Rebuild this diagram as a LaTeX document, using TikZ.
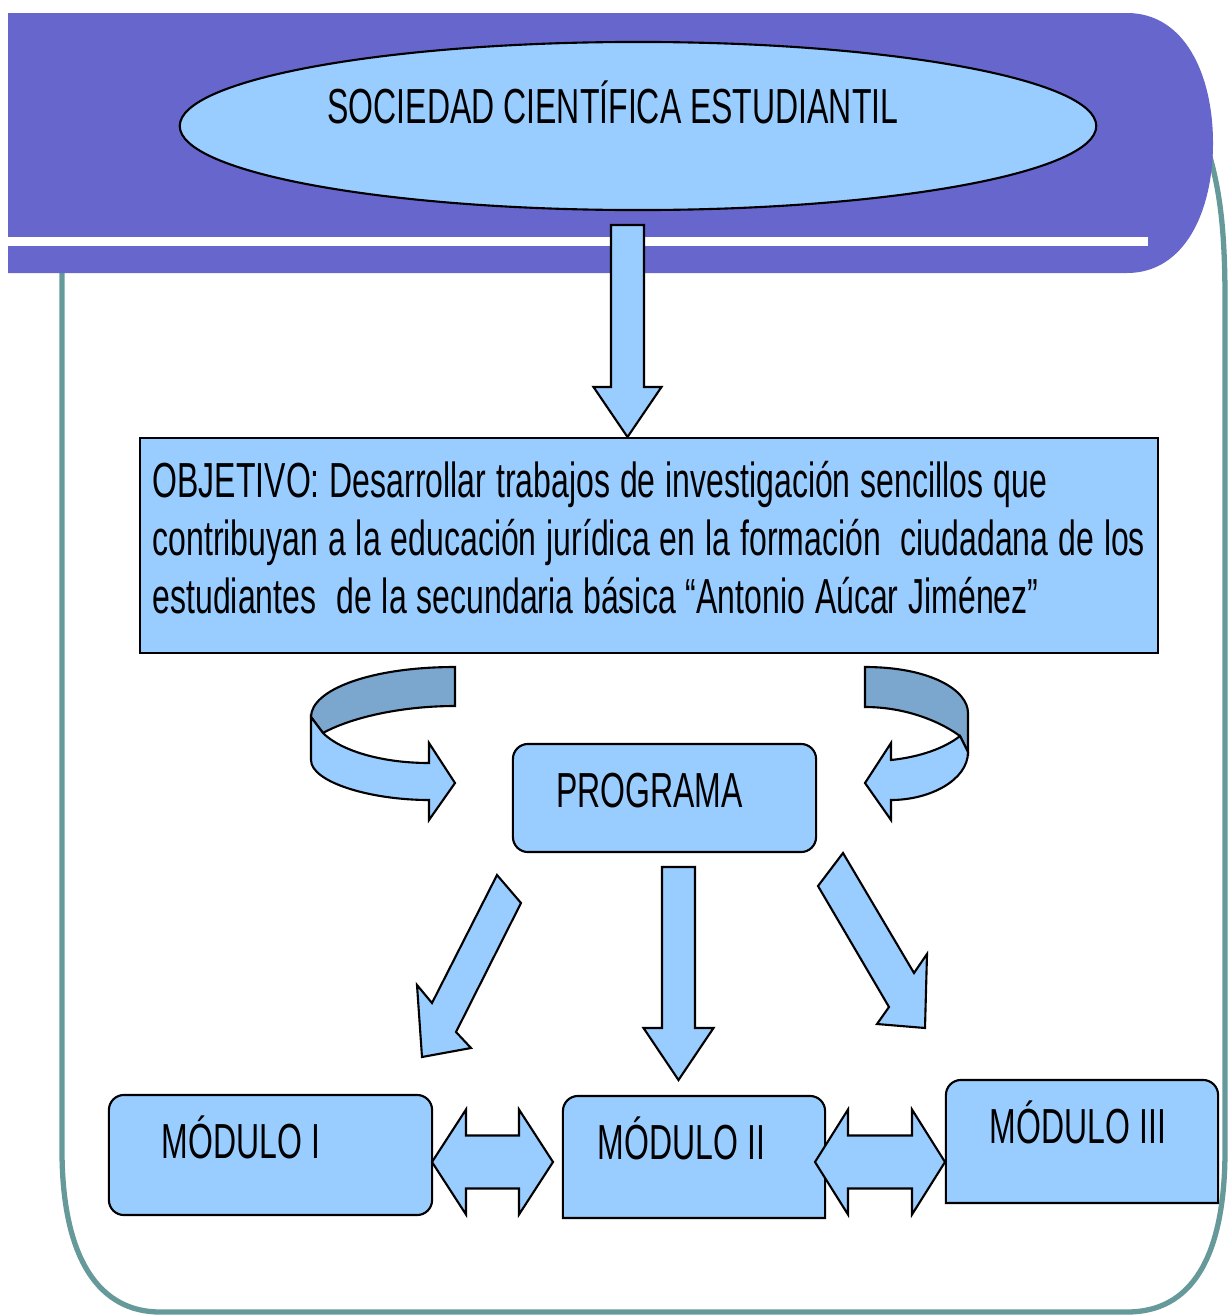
\documentclass[tikz,border=0pt]{standalone}
\usepackage{fontspec}
\setmainfont{Liberation Sans}[FakeStretch=0.65]
\usetikzlibrary{calc,positioning,shapes.geometric}
\pgfdeclarelayer{background}
\pgfsetlayers{background,main}
\definecolor{bannerblue}{HTML}{6666CC}
\definecolor{boxblue}{HTML}{99CCFF}
\definecolor{ribbonblue}{HTML}{7BA6CE}
\definecolor{frameteal}{HTML}{669999}
\newcommand{\FatArrow}[5]% from, to, half shaft, half head, head length
{ \coordinate (hb) at ($(#2)!#5!(#1)$);
  \draw[blockarrow] ($(#1)!#3!90:(#2)$) -- ($(hb)!#3!-90:(#1)$) -- ($(hb)!#4!-90:(#1)$) -- (#2)
    -- ($(hb)!#4!90:(#1)$) -- ($(hb)!#3!90:(#1)$) -- ($(#1)!#3!-90:(#2)$) -- cycle;
}
\newcommand{\TwinArrow}[5]% tip, tip, half shaft, half head, head length
{ \coordinate (ha) at ($(#1)!#5!(#2)$);
  \coordinate (hb) at ($(#2)!#5!(#1)$);
  \draw[blockarrow] (#1) -- ($(ha)!#4!90:(#2)$) -- ($(ha)!#3!90:(#2)$) -- ($(hb)!#3!-90:(#1)$)
    -- ($(hb)!#4!-90:(#1)$) -- (#2) -- ($(hb)!#4!90:(#1)$) -- ($(hb)!#3!90:(#1)$)
    -- ($(ha)!#3!-90:(#2)$) -- ($(ha)!#4!-90:(#2)$) -- cycle;
}
\newcommand{\TopRounded}[1]% node
{ \begin{pgfonlayer}{background}
    \draw[bluebox] (#1.south west) -- ([yshift=-0.15cm]#1.north west) arc[start angle=180,end angle=90,radius=0.15cm]
      -- ([xshift=-0.15cm]#1.north east) arc[start angle=90,end angle=0,radius=0.15cm] -- (#1.south east) -- cycle;
  \end{pgfonlayer}
}

\begin{document}
\begin{tikzpicture}[x=0.01cm,y=-0.01cm,
    bluebox/.style={draw=black,fill=boxblue,line width=0.6pt},
    blockarrow/.style={draw=black,fill=boxblue,line width=0.6pt},
    boxtext/.style={font=\fontsize{14}{16}\selectfont,text height=0.345cm,text depth=0pt,inner sep=0pt}]
  \useasboundingbox (0,0) rectangle (1227,1315);
  % frame and banner
  \draw[frameteal,line width=1.5pt] (1208,150) .. controls (1220,190) and (1225,230) .. (1225,300) -- (1225,1150)
    .. controls (1225,1260) and (1190,1312) .. (1127,1312) -- (160,1312)
    .. controls (100,1312) and (62,1260) .. (62,1150) -- (62,250);
  \fill[bannerblue] (8,13) -- (1127,13) .. controls (1185,13) and (1213,75) .. (1213,143)
    .. controls (1213,211) and (1185,273) .. (1127,273) -- (8,273) -- cycle;
  \fill[white] (8,237) rectangle (1148,246);

  \node[bluebox,ellipse,minimum width=9.16cm,minimum height=1.68cm,inner sep=0pt,
    label={[boxtext,xshift=-0.25cm,yshift=0.2cm]center:SOCIEDAD CIENTÍFICA ESTUDIANTIL}] (sce) at (638,126) {};
  \node[bluebox,text width=10.0cm,inner xsep=0.09cm,minimum height=2.15cm,align=left,
    font=\fontsize{14}{16.5}\selectfont] (obj) at (649,545.5)
    {\spaceskip=0.10cm\relax
     \hspace*{0.04cm}OBJETIVO: Desarrollar trabajos de investigación sencillos que\\
     \hspace*{0.04cm}contribuyan a la educación jurídica en la formación~ ciudadana de los\\
     \hspace*{0.04cm}estudiantes~ de la secundaria básica “Antonio Aúcar Jiménez”\rule[-0.17cm]{0pt}{0.17cm}};
  \node[bluebox,rounded corners=0.15cm,minimum width=3.03cm,minimum height=1.08cm,
    label={[boxtext,xshift=-0.15cm,yshift=0.08cm]center:PROGRAMA}] (prog) at (664.5,798) {};
  \node[bluebox,rounded corners=0.15cm,minimum width=3.23cm,minimum height=1.20cm,
    label={[boxtext,xshift=-0.295cm,yshift=0.14cm]center:MÓDULO I}] (mod1) at (270.5,1155) {};
  \node[minimum width=2.62cm,minimum height=1.22cm,outer sep=0pt,
    label={[boxtext,xshift=-0.125cm,yshift=0.145cm]center:MÓDULO II}] (mod2) at (694,1157) {};
  \node[minimum width=2.72cm,minimum height=1.23cm,outer sep=0pt,
    label={[boxtext,xshift=-0.04cm,yshift=0.155cm]center:MÓDULO III}] (mod3) at (1082,1141.5) {};
  \TopRounded{mod2}
  \TopRounded{mod3}

  % straight arrows
  \coordinate (sceout) at (627.5,225);
  \coordinate (objin) at (627.5,437);
  \coordinate (progout) at (678.5,867);
  \coordinate (mod2in) at (678.5,1080);
  \FatArrow{sceout}{objin}{0.165cm}{0.34cm}{0.50cm}
  \FatArrow{progout}{mod2in}{0.165cm}{0.35cm}{0.52cm}
  \coordinate (mod1in) at (422,1057);
  \coordinate (mod3in) at (925,1028);
  \draw[blockarrow] (497,875) -- (521,903) -- (456,1032) -- (471,1048) -- (mod1in) -- (417,985) -- (432,1003) -- cycle;
  \draw[blockarrow] (843,853) -- (914,973) -- (927,954) -- (mod3in) -- (877,1024) -- (889,1007) -- (818,886) -- cycle;
  \coordinate (m1r) at (432,1162);
  \coordinate (m2l) at (553,1162);
  \coordinate (m2r) at (815,1162);
  \coordinate (m3l) at (945,1162);
  \TwinArrow{m1r}{m2l}{0.265cm}{0.525cm}{0.34cm}
  \TwinArrow{m2r}{m3l}{0.265cm}{0.525cm}{0.33cm}

  % turning ribbons
  \draw[fill=ribbonblue,line width=0.6pt] (455,667) .. controls (370,667) and (311,690) .. (311,717) -- (323,733)
    .. controls (350,718) and (400,706) .. (455,706) -- cycle;
  \draw[blockarrow] (311,717) -- (311,760) .. controls (311,782) and (370,800) .. (429,800) -- (429,820) -- (455,783)
    -- (429,743) -- (429,763) .. controls (380,763) and (340,750) .. (323,733) -- cycle;
  \draw[fill=ribbonblue,line width=0.6pt] (865,667) .. controls (930,667) and (968,690) .. (968,713) -- (968,752)
    -- (960,736) .. controls (935,718) and (900,707) .. (865,707) -- cycle;
  \draw[blockarrow] (960,736) -- (968,752) .. controls (968,780) and (930,800) .. (891,800) -- (891,820) -- (865,783)
    -- (891,743) -- (891,760) .. controls (920,757) and (945,748) .. (960,736) -- cycle;
\end{tikzpicture}
\end{document}
